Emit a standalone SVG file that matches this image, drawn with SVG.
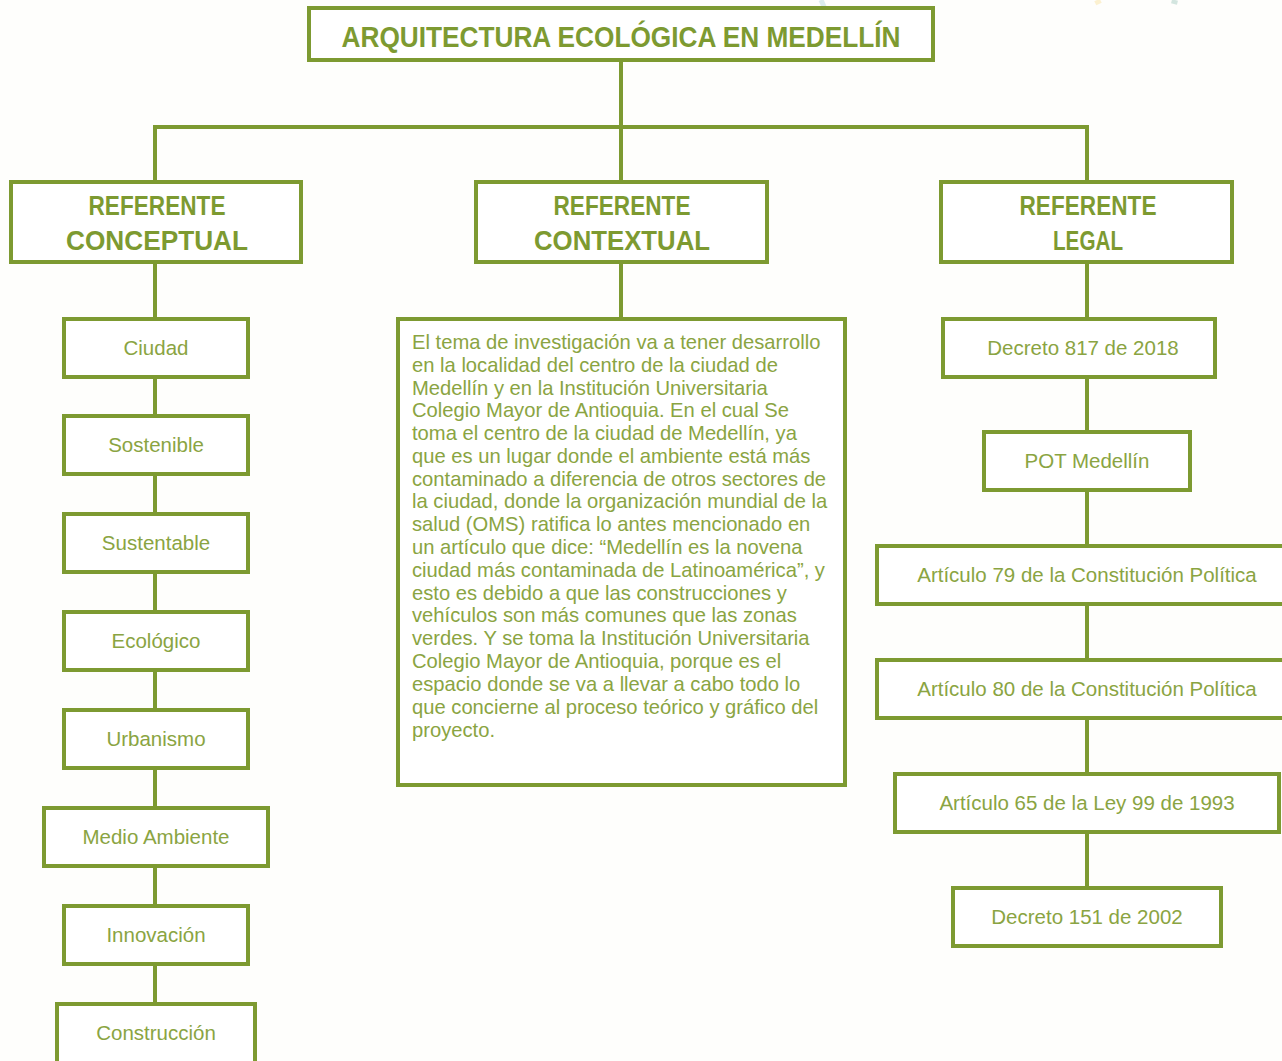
<svg xmlns="http://www.w3.org/2000/svg" width="1282" height="1061" viewBox="0 0 1282 1061">
<style>
.box{fill:#fff;stroke:#7d9a31;stroke-width:4}
.ln{stroke:#7d9a31;stroke-width:4;fill:none}
.h{font-family:"Liberation Sans",Arial,sans-serif;font-weight:bold;fill:#7d9a31;text-anchor:middle}
.t{font-family:"Liberation Sans",Arial,sans-serif;font-size:20.5px;fill:#8aa442;text-anchor:middle}
.p{font-family:"Liberation Sans",Arial,sans-serif;font-size:20.2px;fill:#8aa442}
</style>
<rect width="1282" height="1061" fill="#fefefc"/>
<g id="deco" opacity="0.5">
<line x1="821" y1="0" x2="829" y2="18" stroke="#b9dbe0" stroke-width="5"/>
<line x1="1097" y1="0" x2="1099" y2="4" stroke="#fbe6a6" stroke-width="6"/>
<line x1="1175" y1="0" x2="1174" y2="4" stroke="#a9cdc3" stroke-width="6"/>
</g>
<g id="connectors">
<line class="ln" x1="621" y1="60" x2="621" y2="127"/>
<line class="ln" x1="153" y1="127" x2="1089" y2="127"/>
<line class="ln" x1="155" y1="125" x2="155" y2="182"/>
<line class="ln" x1="621" y1="125" x2="621" y2="182"/>
<line class="ln" x1="1087" y1="125" x2="1087" y2="182"/>
<line class="ln" x1="155" y1="262" x2="155" y2="1004"/>
<line class="ln" x1="621" y1="262" x2="621" y2="319"/>
<line class="ln" x1="1087" y1="262" x2="1087" y2="888"/>
</g>
<g id="title"><rect class="box" x="309" y="8" width="624" height="52"/><text class="h" x="621" y="47" font-size="29" textLength="559" lengthAdjust="spacingAndGlyphs">ARQUITECTURA ECOLÓGICA EN MEDELLÍN</text></g>
<g id="ref-conceptual"><rect class="box" x="11" y="182" width="290" height="80"/><text class="h" x="157" y="215" font-size="27" textLength="137" lengthAdjust="spacingAndGlyphs">REFERENTE</text><text class="h" x="157" y="250" font-size="27" textLength="182" lengthAdjust="spacingAndGlyphs">CONCEPTUAL</text></g>
<g id="ref-contextual"><rect class="box" x="476" y="182" width="291" height="80"/><text class="h" x="622" y="215" font-size="27" textLength="137" lengthAdjust="spacingAndGlyphs">REFERENTE</text><text class="h" x="622" y="250" font-size="27" textLength="176" lengthAdjust="spacingAndGlyphs">CONTEXTUAL</text></g>
<g id="ref-legal"><rect class="box" x="941" y="182" width="291" height="80"/><text class="h" x="1088" y="215" font-size="27" textLength="137" lengthAdjust="spacingAndGlyphs">REFERENTE</text><text class="h" x="1088" y="250" font-size="27" textLength="70" lengthAdjust="spacingAndGlyphs">LEGAL</text></g>
<g id="ciudad"><rect class="box" x="64" y="319" width="184" height="58"/><text class="t" x="156" y="355">Ciudad</text></g>
<g id="sostenible"><rect class="box" x="64" y="416" width="184" height="58"/><text class="t" x="156" y="452">Sostenible</text></g>
<g id="sustentable"><rect class="box" x="64" y="514" width="184" height="58"/><text class="t" x="156" y="550">Sustentable</text></g>
<g id="ecologico"><rect class="box" x="64" y="612" width="184" height="58"/><text class="t" x="156" y="648">Ecológico</text></g>
<g id="urbanismo"><rect class="box" x="64" y="710" width="184" height="58"/><text class="t" x="156" y="746">Urbanismo</text></g>
<g id="medio-ambiente"><rect class="box" x="44" y="808" width="224" height="58"/><text class="t" x="156" y="844">Medio Ambiente</text></g>
<g id="innovacion"><rect class="box" x="64" y="906" width="184" height="58"/><text class="t" x="156" y="942">Innovación</text></g>
<g id="construccion"><rect class="box" x="57" y="1004" width="198" height="62"/><text class="t" x="156" y="1040">Construcción</text></g>
<g id="contexto"><rect class="box" x="398" y="319" width="447" height="466"/>
<text class="p" x="412"><tspan x="412" y="349">El tema de investigación va a tener desarrollo</tspan><tspan x="412" y="372">en la localidad del centro de la ciudad de</tspan><tspan x="412" y="395">Medellín y en la Institución Universitaria</tspan><tspan x="412" y="417">Colegio Mayor de Antioquia. En el cual Se</tspan><tspan x="412" y="440">toma el centro de la ciudad de Medellín, ya</tspan><tspan x="412" y="463">que es un lugar donde el ambiente está más</tspan><tspan x="412" y="486">contaminado a diferencia de otros sectores de</tspan><tspan x="412" y="508">la ciudad, donde la organización mundial de la</tspan><tspan x="412" y="531">salud (OMS) ratifica lo antes mencionado en</tspan><tspan x="412" y="554">un artículo que dice: “Medellín es la novena</tspan><tspan x="412" y="577">ciudad más contaminada de Latinoamérica”, y</tspan><tspan x="412" y="600">esto es debido a que las construcciones y</tspan><tspan x="412" y="622">vehículos son más comunes que las zonas</tspan><tspan x="412" y="645">verdes. Y se toma la Institución Universitaria</tspan><tspan x="412" y="668">Colegio Mayor de Antioquia, porque es el</tspan><tspan x="412" y="691">espacio donde se va a llevar a cabo todo lo</tspan><tspan x="412" y="714">que concierne al proceso teórico y gráfico del</tspan><tspan x="412" y="737">proyecto.</tspan></text></g>
<g id="decreto817"><rect class="box" x="943" y="319" width="272" height="58"/><text class="t" x="1083" y="355">Decreto 817 de 2018</text></g>
<g id="pot"><rect class="box" x="984" y="432" width="206" height="58"/><text class="t" x="1087" y="468">POT Medellín</text></g>
<g id="art79"><rect class="box" x="877" y="546" width="410" height="58"/><text class="t" x="1087" y="582">Artículo 79 de la Constitución Política</text></g>
<g id="art80"><rect class="box" x="877" y="660" width="410" height="58"/><text class="t" x="1087" y="696">Artículo 80 de la Constitución Política</text></g>
<g id="art65"><rect class="box" x="895" y="774" width="384" height="58"/><text class="t" x="1087" y="810">Artículo 65 de la Ley 99 de 1993</text></g>
<g id="decreto151"><rect class="box" x="953" y="888" width="268" height="58"/><text class="t" x="1087" y="924">Decreto 151 de 2002</text></g>
</svg>
